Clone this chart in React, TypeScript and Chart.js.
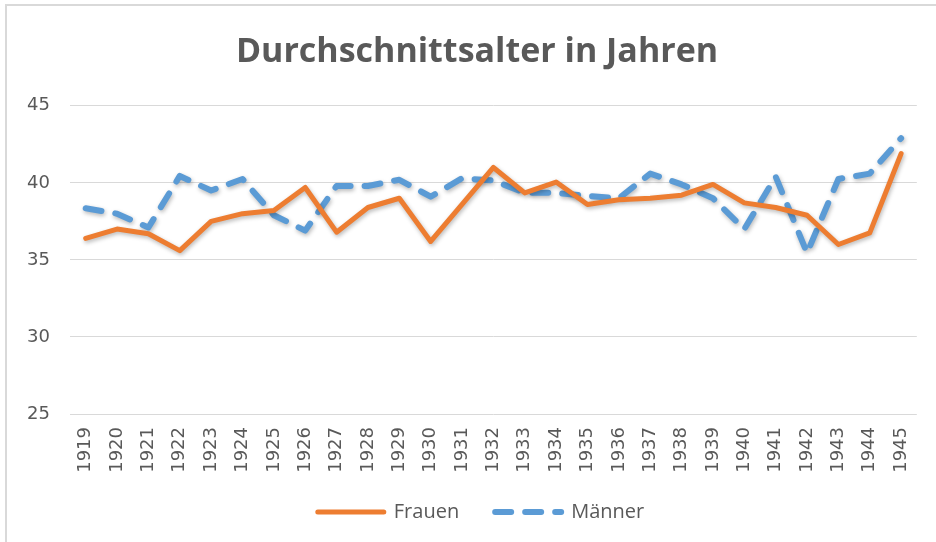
import React, { useEffect, useRef } from "react";
import { Chart, registerables } from "chart.js";

Chart.register(...registerables);

const years: string[] = [
  "1919", "1920", "1921", "1922", "1923", "1924", "1925", "1926", "1927",
  "1928", "1929", "1930", "1931", "1932", "1933", "1934", "1935", "1936",
  "1937", "1938", "1939", "1940", "1941", "1942", "1943", "1944", "1945",
];

const frauen: number[] = [
  36.4, 37.0, 36.7, 35.6, 37.5, 38.0, 38.2, 39.7, 36.8,
  38.4, 39.0, 36.2, 38.6, 41.0, 39.35, 40.05, 38.6, 38.9,
  39.0, 39.2, 39.9, 38.7, 38.4, 37.9, 36.0, 36.75, 41.9,
];

const maenner: number[] = [
  38.35, 38.0, 37.1, 40.45, 39.5, 40.25, 37.9, 36.9, 39.8,
  39.8, 40.2, 39.1, 40.3, 40.15, 39.35, 39.35, 39.15, 39.0,
  40.6, 39.9, 39.0, 37.0, 40.4, 35.45, 40.25, 40.6, 42.9,
];

const yMin = 25;
const yMax = 45;
const yStep = 5;

const shadowPlugin = {
  id: "lineShadow",
  beforeDatasetsDraw(chart: any) {
    const ctx = chart.ctx;
    ctx.save();
    ctx.shadowColor = "rgba(0,0,0,0.28)";
    ctx.shadowBlur = 4;
    ctx.shadowOffsetX = 1;
    ctx.shadowOffsetY = 2;
  },
  afterDatasetsDraw(chart: any) {
    chart.ctx.restore();
  },
};

// nudge title and legend boxes to match the reference placement
const boxShiftPlugin = {
  id: "boxShift",
  afterLayout(chart: any) {
    const t = chart.titleBlock;
    if (t) {
      t.left += 10;
      t.right += 10;
    }
    const l = chart.legend;
    if (l) {
      l.left += 14;
      l.right += 14;
      l.top -= 8;
      l.bottom -= 8;
    }
  },
};

export default function App() {
  const ref = useRef<HTMLCanvasElement | null>(null);

  useEffect(() => {
    if (!ref.current) return;
    const chart = new Chart(ref.current, {
      type: "line",
      data: {
        labels: years,
        datasets: [
          {
            label: "Frauen",
            data: frauen,
            borderColor: "#ED7D31",
            backgroundColor: "#ED7D31",
            borderWidth: 5,
            borderCapStyle: "round",
            borderJoinStyle: "round",
            pointRadius: 0,
            tension: 0,
          },
          {
            label: "Männer",
            data: maenner,
            borderColor: "#5B9BD5",
            backgroundColor: "#5B9BD5",
            borderWidth: 6,
            borderDash: [16, 14],
            borderCapStyle: "round",
            borderJoinStyle: "round",
            pointRadius: 0,
            tension: 0,
          },
        ],
      },
      options: {
        animation: false,
        responsive: false,
        maintainAspectRatio: false,
        layout: { padding: { left: 13, right: 15, top: 0, bottom: 2 } },
        plugins: {
          title: {
            display: true,
            text: "Durchschnittsalter in Jahren",
            color: "#595959",
            font: { family: "'Open Sans'", size: 34, weight: "bold" },
            padding: { top: 32, bottom: 33 },
          },
          legend: {
            display: true,
            position: "bottom",
            labels: {
              usePointStyle: true,
              pointStyleWidth: 66,
              padding: 36,
              color: "#595959",
              font: { family: "'Open Sans'", size: 20 },
              generateLabels: (c: any) =>
                c.data.datasets.map((ds: any, i: number) => ({
                  text: ds.label,
                  strokeStyle: ds.borderColor,
                  fillStyle: ds.borderColor,
                  lineWidth: ds.borderWidth,
                  lineDash: ds.borderDash || [],
                  lineCap: "round",
                  pointStyle: "line",
                  hidden: false,
                  datasetIndex: i,
                  fontColor: "#595959",
                })),
            },
          },
          tooltip: { enabled: false },
        },
        scales: {
          x: {
            offset: true,
            grid: { display: false, drawTicks: false },
            border: { display: false },
            afterFit: (scale: any) => {
              scale.height = 60;
            },
            ticks: {
              minRotation: 90,
              maxRotation: 90,
              autoSkip: false,
              padding: 13,
              color: "#595959",
              font: { family: "'DejaVu Sans'", size: 18 },
            },
          },
          y: {
            min: yMin,
            max: yMax,
            grid: { color: "#d9d9d9", lineWidth: 1, drawTicks: false },
            border: { display: false },
            afterFit: (scale: any) => {
              scale.width = 57;
            },
            ticks: {
              stepSize: yStep,
              padding: 20,
              color: "#595959",
              font: { family: "'DejaVu Sans'", size: 18 },
            },
          },
        },
      },
      plugins: [shadowPlugin, boxShiftPlugin],
    });
    return () => chart.destroy();
  }, []);

  return (
    <div style={{ position: "fixed", left: 0, top: 0, width: 936, height: 542, background: "#fff" }}>
      <div
        style={{
          position: "absolute",
          left: 5,
          top: 4,
          right: 0,
          bottom: 0,
          borderLeft: "2px solid #d9d9d9",
          borderTop: "2px solid #d9d9d9",
        }}
      />
      <canvas ref={ref} width={936} height={542} style={{ position: "absolute", left: 0, top: 0 }} />
    </div>
  );
}
